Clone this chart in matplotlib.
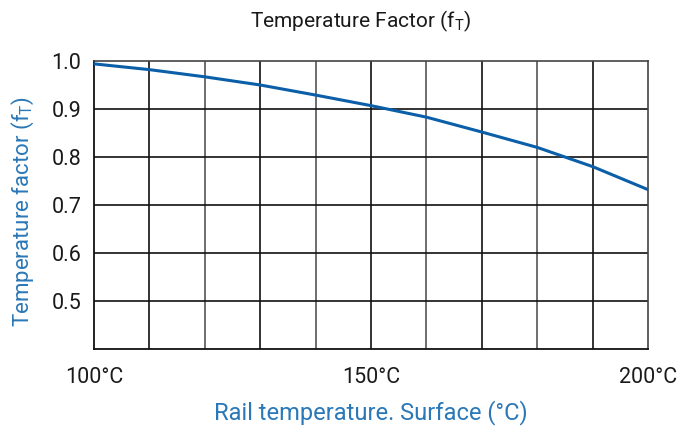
import matplotlib
matplotlib.use('Agg')
import matplotlib.pyplot as plt

plt.rcParams['font.family'] = ['Roboto', 'DejaVu Sans']
plt.rcParams['mathtext.fontset'] = 'custom'
plt.rcParams['mathtext.rm'] = 'Roboto'

# rail surface temperature (deg C) and temperature factor
temps = [100, 110, 120, 130, 140, 150, 160, 170, 180, 190, 200]
factor = [0.994, 0.982, 0.967, 0.950, 0.929, 0.907, 0.883, 0.852, 0.820, 0.780, 0.732]

xticks = [100, 150, 200]
xtick_labels = ['100°C', '150°C', '200°C']
yticks = [0.5, 0.6, 0.7, 0.8, 0.9, 1.0]
ytick_labels = ['0.5', '0.6', '0.7', '0.8', '0.9', '1.0']

fig = plt.figure(figsize=(6.92, 4.28), dpi=100)
ax = fig.add_axes([0.1358, 0.1846, 0.8006, 0.6729])

# grid
for xv in range(110, 200, 10):
    ax.axvline(xv, color='#555555' if xv % 20 == 0 else '#111111', lw=1.2, zorder=1)
for yv in yticks[:-1]:
    ax.axhline(yv, color='#111111', lw=1.2, zorder=1)

ax.plot(temps, factor, color='#0a5fa8', lw=2.2, zorder=3)

ax.set_xlim(100, 200)
ax.set_ylim(0.4, 1.0)
ax.set_xticks(xticks)
ax.set_xticklabels(xtick_labels)
ax.set_yticks(yticks)
ax.set_yticklabels(ytick_labels)
ax.tick_params(axis='both', length=0, labelsize=15.5, colors='#1a1a1a')
ax.tick_params(axis='x', pad=13)
ax.tick_params(axis='y', pad=9)

for side in ['left', 'bottom']:
    ax.spines[side].set_color('#111111')
    ax.spines[side].set_linewidth(1.3)
for side in ['top', 'right']:
    ax.spines[side].set_color('#444444')
    ax.spines[side].set_linewidth(1.2)

ax.set_xlabel('Rail temperature. Surface (°C)', color='#2a78b8', fontsize=17, labelpad=9)
ax.set_ylabel(r'Temperature factor (f$_\mathrm{T}$)', color='#2a78b8', fontsize=16)
ax.yaxis.set_label_coords(-0.105, 0.476)
ax.set_title(r'Temperature Factor (f$_\mathrm{T}$)', fontsize=15, color='#1a1a1a', pad=24, x=0.482)

fig.savefig('out.png', dpi=100)
